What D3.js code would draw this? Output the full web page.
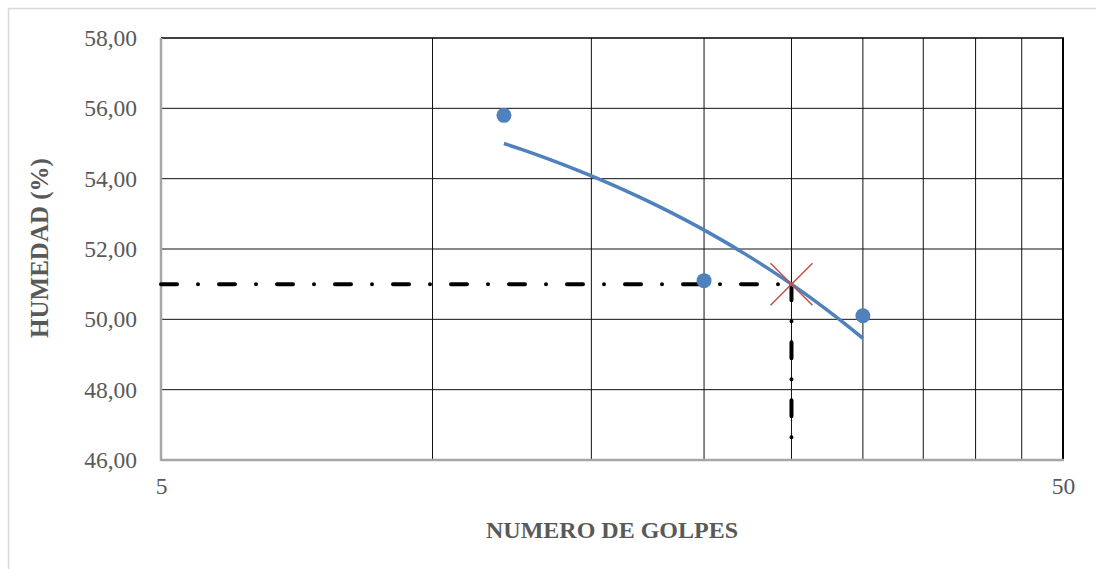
<!DOCTYPE html>
<html><head><meta charset="utf-8">
<script src="https://cdn.jsdelivr.net/npm/d3@7"></script>
<style>body{margin:0;background:#fff}svg{display:block}</style>
</head><body>
<script>
const golpes = [12, 20, 30];
const humedad = [55.8, 51.1, 50.1];
const yTicks = [46, 48, 50, 52, 54, 56, 58];
const xGrid = [5, 10, 15, 20, 25, 30, 35, 40, 45, 50];
const xTickLabels = [5, 50];
const refGolpes = 25;
const refHumedad = 51.0;
const xLabel = "NUMERO DE GOLPES";
const yLabel = "HUMEDAD (%)";

const W = 1096, H = 569;
const m = {l: 161, t: 38, r: 1063, b: 460};
const svg = d3.select("body").append("svg").attr("width", W).attr("height", H);
svg.append("rect").attr("x", 8.5).attr("y", 8.5).attr("width", W).attr("height", H)
  .attr("fill", "#fff").attr("stroke", "#d9d9d9").attr("stroke-width", 1.5);

const x = d3.scaleLog().domain([5, 50]).range([m.l, m.r]);
const y = d3.scaleLinear().domain([46, 58]).range([m.b, m.t]);
const font = "'Liberation Serif', serif";

// gridlines
const g = svg.append("g");
g.selectAll("line.v").data(xGrid.slice(1, -1)).join("line")
  .attr("x1", d => x(d)).attr("x2", d => x(d)).attr("y1", m.t).attr("y2", m.b)
  .attr("stroke", "#111").attr("stroke-width", 1);
g.selectAll("line.h").data(yTicks.slice(1, -1)).join("line")
  .attr("y1", d => y(d)).attr("y2", d => y(d)).attr("x1", m.l).attr("x2", m.r)
  .attr("stroke", "#111").attr("stroke-width", 1);

// frame
svg.append("line").attr("x1", m.l).attr("x2", m.r + 1).attr("y1", m.t).attr("y2", m.t).attr("stroke", "#000").attr("stroke-width", 1.5);
svg.append("line").attr("x1", m.r).attr("x2", m.r).attr("y1", m.t).attr("y2", m.b).attr("stroke", "#000").attr("stroke-width", 2);
svg.append("line").attr("x1", m.l).attr("x2", m.l).attr("y1", m.t).attr("y2", m.b + 1).attr("stroke", "#a6a6a6").attr("stroke-width", 2.5);
svg.append("line").attr("x1", m.l).attr("x2", m.r + 1).attr("y1", m.b).attr("y2", m.b).attr("stroke", "#a6a6a6").attr("stroke-width", 2.5);

// axes (labels only)
const yAxis = d3.axisLeft(y).tickValues(yTicks).tickSize(0).tickPadding(24)
  .tickFormat(d => d3.format(".2f")(d).replace(".", ","));
const ya = svg.append("g").attr("transform", `translate(${m.l},0)`).call(yAxis);
ya.select(".domain").remove();
ya.selectAll("text").attr("font-family", font).attr("font-size", 23.5).attr("fill", "#595959");

const xAxis = d3.axisBottom(x).tickValues(xTickLabels).tickSize(0).tickPadding(17).tickFormat(d3.format("d"));
const xa = svg.append("g").attr("transform", `translate(0,${m.b})`).call(xAxis);
xa.select(".domain").remove();
xa.selectAll("text").attr("font-family", font).attr("font-size", 23.5).attr("fill", "#595959");

svg.append("text").attr("x", 612).attr("y", 538).attr("text-anchor", "middle")
  .attr("font-family", font).attr("font-weight", "bold").attr("font-size", 24).attr("fill", "#595959").text(xLabel);
svg.append("text").attr("transform", "translate(48,248) rotate(-90)").attr("text-anchor", "middle")
  .attr("font-family", font).attr("font-weight", "bold").attr("font-size", 25).attr("fill", "#595959").text(yLabel);

// reference dash-dot lines
const dash = "16 21 0 21";
svg.append("line").attr("x1", x(5)).attr("x2", x(refGolpes)).attr("y1", y(refHumedad)).attr("y2", y(refHumedad))
  .attr("stroke", "#000").attr("stroke-width", 4).attr("stroke-linecap", "round").attr("stroke-dasharray", dash);
svg.append("line").attr("x1", x(refGolpes)).attr("x2", x(refGolpes)).attr("y1", y(refHumedad)).attr("y2", y(46) - 8)
  .attr("stroke", "#000").attr("stroke-width", 4).attr("stroke-linecap", "round").attr("stroke-dasharray", dash);

// linear trendline (least squares of the data), drawn on log x axis
const n = golpes.length;
const mx = d3.mean(golpes), my = d3.mean(humedad);
const slope = d3.sum(golpes, (v, i) => (v - mx) * (humedad[i] - my)) / d3.sum(golpes, v => (v - mx) ** 2);
const icpt = my - slope * mx;
const tx = d3.range(0, 61).map(i => golpes[0] + (golpes[n - 1] - golpes[0]) * i / 60);
svg.append("path").datum(tx)
  .attr("d", d3.line().x(d => x(d)).y(d => y(icpt + slope * d)))
  .attr("fill", "none").attr("stroke", "#4f81bd").attr("stroke-width", 3.5);

// points
svg.selectAll("circle.pt").data(golpes).join("circle")
  .attr("cx", d => x(d)).attr("cy", (d, i) => y(humedad[i])).attr("r", 7.5).attr("fill", "#4f81bd");

// red X marker
const cx = x(refGolpes), cy = y(refHumedad), s = 21;
svg.append("path").attr("d", `M${cx - s},${cy - s}L${cx + s},${cy + s}M${cx - s},${cy + s}L${cx + s},${cy - s}`)
  .attr("stroke", "#c0504d").attr("stroke-width", 1.5).attr("fill", "none");
</script>
</body></html>
